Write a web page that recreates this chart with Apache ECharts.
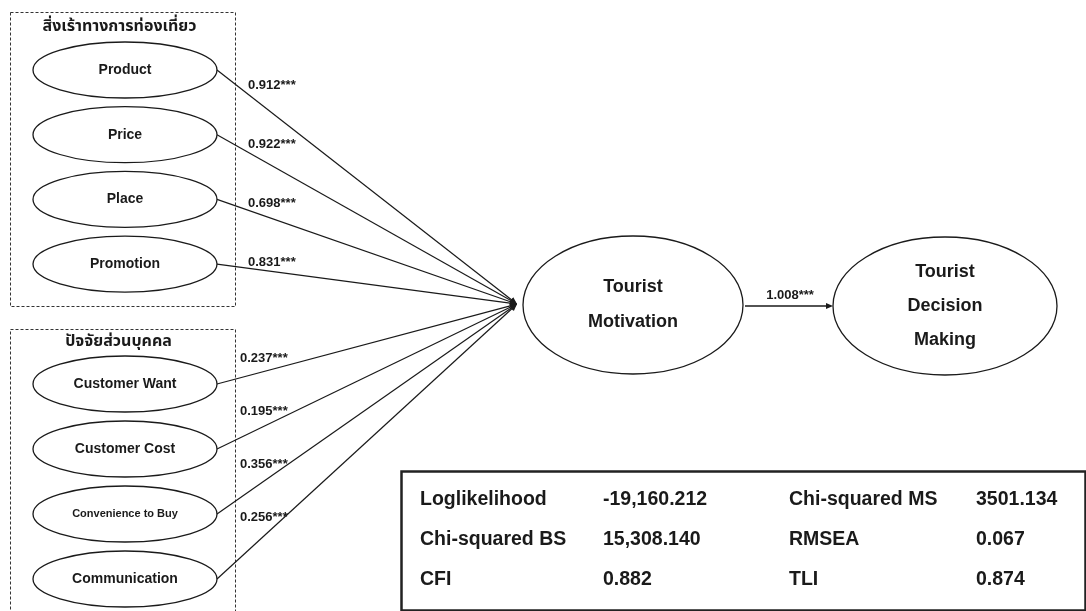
<!DOCTYPE html>
<html><head><meta charset="utf-8">
<script src="https://cdn.jsdelivr.net/npm/echarts@6/dist/echarts.min.js"></script>
<style>html,body{margin:0;padding:0;background:#fff}#chart{width:1086px;height:611px}</style>
</head><body><div id="chart"></div>
<script>
// ---------- data ----------
const groupTitles = ['สิ่งเร้าทางการท่องเที่ยว', 'ปัจจัยส่วนบุคคล'];
const stimulusFactors = ['Product', 'Price', 'Place', 'Promotion'];
const stimulusCoefs = [0.912, 0.922, 0.698, 0.831];
const personalFactors = ['Customer Want', 'Customer Cost', 'Convenience to Buy', 'Communication'];
const personalCoefs = [0.237, 0.195, 0.356, 0.256];
const mediatorLines = ['Tourist', 'Motivation'];
const outcomeLines = ['Tourist', 'Decision', 'Making'];
const mediatorCoef = 1.008;
const significance = '***';
const fitNames = ['Loglikelihood', 'Chi-squared BS', 'CFI', 'Chi-squared MS', 'RMSEA', 'TLI'];
const fitValues = ['-19,160.212', '15,308.140', '0.882', '3501.134', '0.067', '0.874'];

// ---------- layout ----------
const W = 1086, H = 611;
const FONT = '"Liberation Sans", Arial, Helvetica, sans-serif';
const THAI = '"Noto Sans Thai", "Noto Sans Thai UI", "Noto Sans", "DejaVu Sans", sans-serif';
const INK = '#1a1a1a';
const L = {
  boxX: 8, boxW: 225, leftCx: 125, rx: 92, ry: 28,
  groups: [
    { boxY: 10, boxH: 294, titleY: 28, firstY: 70, step: 64.7, labelX: 248, labelY0: 85, labelStep: 59.3 },
    { boxY: 327, boxH: 300, titleY: 343, firstY: 384, step: 65, labelX: 240, labelY0: 358, labelStep: 53 }
  ],
  target: [517, 304],
  med: { cx: 633, cy: 305, rx: 110, ry: 69 },
  out: { cx: 945, cy: 306, rx: 112, ry: 69 },
  table: { x: 399, y: 469, w: 684, h: 139, cols: [420, 603, 789, 976], rows: [500, 540, 580] }
};
const fmt = v => v.toFixed(3) + significance;

function arrowParts(api, from, to, lw) {
  const a = api.coord(from), b = api.coord(to);
  const dx = b[0] - a[0], dy = b[1] - a[1];
  const len = Math.sqrt(dx * dx + dy * dy);
  const ux = dx / len, uy = dy / len;
  const al = 7, aw = 3;
  const bx = b[0] - ux * al, by = b[1] - uy * al;
  return [
    { type: 'line', shape: { x1: a[0], y1: a[1], x2: bx, y2: by }, style: { stroke: INK, lineWidth: lw } },
    { type: 'polygon', shape: { points: [[b[0], b[1]], [bx - uy * aw, by + ux * aw], [bx + uy * aw, by - ux * aw]] }, style: { fill: INK } }
  ];
}

function groupSeries(gi, names, coefs) {
  const g = L.groups[gi];
  return {
    type: 'custom', coordinateSystem: 'cartesian2d', clip: false, silent: true,
    data: names.map((n, i) => ({ name: n, value: [i, coefs[i]] })),
    renderItem: (params, api) => {
      const i = api.value(0), coef = api.value(1);
      const name = names[i];
      const cy = g.firstY + i * g.step;
      const c = api.coord([L.leftCx, cy]);
      const s = api.size([L.rx, L.ry]);
      const small = name.length > 15;
      const children = [
        { type: 'ellipse', shape: { cx: c[0], cy: c[1], rx: s[0], ry: s[1] }, style: { fill: '#fff', stroke: INK, lineWidth: 1.3 } },
        { type: 'text', style: { text: name, x: c[0], y: c[1], align: 'center', verticalAlign: 'middle', fill: INK,
            fontFamily: FONT, fontWeight: 'bold', fontSize: small ? 11 : 14 } }
      ];
      const lp = api.coord([g.labelX, g.labelY0 + i * g.labelStep]);
      children.push({ type: 'text', style: { text: fmt(coef), x: lp[0], y: lp[1], align: 'left', verticalAlign: 'middle', fill: INK,
          fontFamily: FONT, fontWeight: 'bold', fontSize: 13 } });
      arrowParts(api, [L.leftCx + L.rx, cy], L.target, 1.2).forEach(p => children.push(p));
      return { type: 'group', children };
    }
  };
}

const mediatorSeries = {
  type: 'custom', coordinateSystem: 'cartesian2d', clip: false, silent: true,
  data: [{ name: 'Tourist Motivation', value: [0, mediatorCoef] }],
  renderItem: (params, api) => {
    const coef = api.value(1);
    const children = [];
    [[L.med, mediatorLines, 35], [L.out, outcomeLines, 34]].forEach(([e, lines, gap]) => {
      const c = api.coord([e.cx, e.cy]);
      const s = api.size([e.rx, e.ry]);
      children.push({ type: 'ellipse', shape: { cx: c[0], cy: c[1], rx: s[0], ry: s[1] }, style: { fill: '#fff', stroke: INK, lineWidth: 1.3 } });
      lines.forEach((t, k) => {
        children.push({ type: 'text', style: { text: t, x: c[0], y: c[1] + (k - (lines.length - 1) / 2) * gap, align: 'center', verticalAlign: 'middle',
            fill: INK, fontFamily: FONT, fontWeight: 'bold', fontSize: 18 } });
      });
    });
    arrowParts(api, [L.med.cx + L.med.rx + 2, L.med.cy + 1], [L.out.cx - L.out.rx, L.med.cy + 1], 1.3).forEach(p => children.push(p));
    const lp = api.coord([(L.med.cx + L.med.rx + L.out.cx - L.out.rx) / 2 + 2, L.med.cy - 10]);
    children.push({ type: 'text', style: { text: fmt(coef), x: lp[0], y: lp[1], align: 'center', verticalAlign: 'middle', fill: INK,
        fontFamily: FONT, fontWeight: 'bold', fontSize: 13 } });
    return { type: 'group', children };
  }
};

const tableSeries = {
  type: 'custom', coordinateSystem: 'cartesian2d', clip: false, silent: true,
  data: fitNames.map((n, i) => ({ name: n, value: [i] })),
  renderItem: (params, api) => {
    const i = api.value(0);
    const col = Math.floor(i / 3) * 2, row = i % 3;
    const T = L.table;
    const p1 = api.coord([T.cols[col], T.rows[row]]);
    const p2 = api.coord([T.cols[col + 1], T.rows[row]]);
    const st = { fill: INK, fontFamily: FONT, fontWeight: 'bold', fontSize: 19.5, align: 'left', verticalAlign: 'middle' };
    return { type: 'group', children: [
      { type: 'text', style: Object.assign({ text: fitNames[i], x: p1[0], y: p1[1] }, st) },
      { type: 'text', style: Object.assign({ text: fitValues[i], x: p2[0], y: p2[1] }, st) }
    ] };
  }
};

const chart = echarts.init(document.getElementById('chart'), null, { renderer: 'canvas' });
chart.setOption({
  backgroundColor: '#fff',
  animation: false,
  grid: { left: 0, right: 0, top: 0, bottom: 0 },
  xAxis: { type: 'value', min: 0, max: W, show: false },
  yAxis: { type: 'value', min: 0, max: H, inverse: true, show: false },
  graphic: [
    { type: 'rect', left: L.boxX, top: L.groups[0].boxY, shape: { width: L.boxW, height: L.groups[0].boxH },
      style: { fill: 'none', stroke: '#333', lineWidth: 1, lineDash: [3, 2] }, z: 0 },
    { type: 'rect', left: L.boxX, top: L.groups[1].boxY, shape: { width: L.boxW, height: L.groups[1].boxH },
      style: { fill: 'none', stroke: '#333', lineWidth: 1, lineDash: [3, 2] }, z: 0 },
    { type: 'text', x: L.boxX + L.boxW / 2 - 1, y: L.groups[0].titleY,
      style: { text: groupTitles[0], fill: INK, font: 'bold 16px ' + THAI, textAlign: 'center', textVerticalAlign: 'middle', align: 'center', verticalAlign: 'middle' } },
    { type: 'text', x: L.boxX + L.boxW / 2 - 2, y: L.groups[1].titleY,
      style: { text: groupTitles[1], fill: INK, font: 'bold 16px ' + THAI, textAlign: 'center', textVerticalAlign: 'middle', align: 'center', verticalAlign: 'middle' } },
    { type: 'rect', left: L.table.x, top: L.table.y, shape: { width: L.table.w, height: L.table.h },
      style: { fill: 'none', stroke: '#222', lineWidth: 2.5 } }
  ],
  series: [
    groupSeries(0, stimulusFactors, stimulusCoefs),
    groupSeries(1, personalFactors, personalCoefs),
    mediatorSeries,
    tableSeries
  ]
});
</script>
</body></html>
